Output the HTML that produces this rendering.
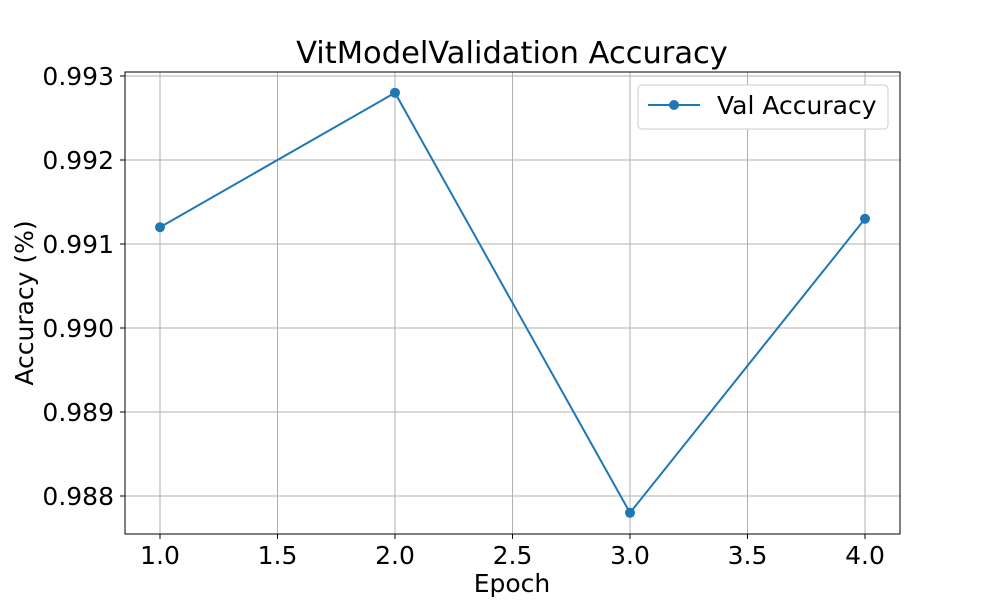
<!DOCTYPE html>
<html><head><meta charset="utf-8"><style>
body{margin:0;background:#fff;}
svg text{font-family:"DejaVu Sans","Liberation Sans",sans-serif;fill:#000;}
</style></head><body>
<svg id="chart" width="1000" height="600">
<text x="512" y="63" font-size="30.5" text-anchor="middle">VitModelValidation Accuracy</text>
<g id="grid"></g>
<g id="ticks"></g>
<rect x="125" y="72" width="775" height="462" fill="none" stroke="#000" stroke-width="1"/>
<g id="series"></g>
<text x="512" y="592" font-size="25" text-anchor="middle">Epoch</text>
<text transform="translate(33,303) rotate(-90)" font-size="25" text-anchor="middle">Accuracy (%)</text>
<g>
<rect x="638" y="85" width="250" height="44" rx="4" fill="#fff" stroke="#ccc"/>
<line x1="648" y1="105" x2="700" y2="105" stroke="#1f77b4" stroke-width="2"/>
<circle cx="674" cy="105" r="5" fill="#1f77b4"/>
<text x="717" y="114" font-size="25">Val Accuracy</text>
</g>
</svg>
<script>
const epochs=[1,2,3,4];
const valAcc=[0.9912,0.9928,0.9878,0.9913];
const xTicks=[1.0,1.5,2.0,2.5,3.0,3.5,4.0];
const yTicks=[0.988,0.989,0.990,0.991,0.992,0.993];
const ns='http://www.w3.org/2000/svg';
function xs(v){return 160+(v-1)*235;}
function ys(v){return 496-(v-0.988)*84000;}
function mk(t,a,p){const e=document.createElementNS(ns,t);for(const k in a)e.setAttribute(k,a[k]);p.appendChild(e);return e;}
const grid=document.getElementById('grid'),ticks=document.getElementById('ticks'),ser=document.getElementById('series');
xTicks.forEach(v=>{const x=xs(v);
 const g=mk('line',{x1:x,x2:x,y1:72,y2:534,stroke:'#b0b0b0','stroke-width':1},grid);
 
 
 const t=mk('line',{x1:x,x2:x,y1:534,y2:539,stroke:'#000'},ticks);
 
 
 const l=mk('text',{x:x,y:564,'font-size':25,'text-anchor':'middle'},ticks);l.textContent=v.toFixed(1);
 
 
});
yTicks.forEach(v=>{const y=ys(v);
 const g=mk('line',{x1:125,x2:900,y1:y,y2:y,stroke:'#b0b0b0','stroke-width':1},grid);
 
 
 const t=mk('line',{x1:120,x2:125,y1:y,y2:y,stroke:'#000'},ticks);
 
 
 const l=mk('text',{x:114,y:y+9,'font-size':25,'text-anchor':'end'},ticks);l.textContent=v.toFixed(3);
 
 
});
const pts=epochs.map((e,i)=>xs(e)+','+ys(valAcc[i])).join(' ');
const pl=mk('polyline',{points:pts,fill:'none',stroke:'#1f77b4','stroke-width':2},ser);


epochs.forEach((e,i)=>{const c=mk('circle',{cx:xs(e),cy:ys(valAcc[i]),r:5,fill:'#1f77b4'},ser);
 
 
});
</script>
</body></html>
